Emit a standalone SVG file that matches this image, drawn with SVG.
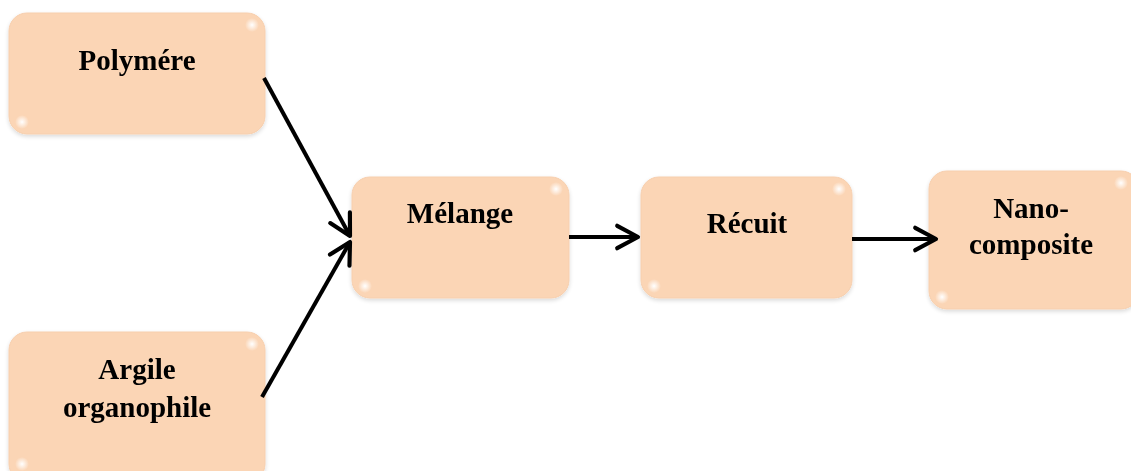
<svg xmlns="http://www.w3.org/2000/svg" width="1131" height="471" viewBox="0 0 1131 471">
  <style>
    .box { fill: #FBD5B5; stroke: #F7CFAE; stroke-width: 1; }
    .label { font-family: "Liberation Serif", "Times New Roman", serif; font-weight: bold; font-size: 29px; fill: #000; text-anchor: middle; }
    .link { stroke: #000; stroke-width: 4; fill: none; marker-end: url(#chevron); }
  </style>
  <defs>
    <marker id="chevron" viewBox="0 0 10 10" refX="9" refY="5" markerWidth="8" markerHeight="8" orient="auto" markerUnits="strokeWidth">
      <path d="M2.5,1.5 L9,5 L2.5,8.5" fill="none" stroke="#000" stroke-width="1.3" stroke-linecap="round" stroke-linejoin="round"/>
    </marker>
    <radialGradient id="glint">
      <stop offset="0" stop-color="#FFFFFF" stop-opacity="1"/>
      <stop offset="1" stop-color="#FFFFFF" stop-opacity="0"/>
    </radialGradient>
    <filter id="soft" x="-10%" y="-10%" width="120%" height="130%">
      <feGaussianBlur in="SourceAlpha" stdDeviation="2"/>
      <feOffset dx="0" dy="2"/>
      <feComponentTransfer><feFuncA type="linear" slope="0.15"/></feComponentTransfer>
      <feMerge><feMergeNode/><feMergeNode in="SourceGraphic"/></feMerge>
    </filter>
  </defs>

  <g id="node-polymere" filter="url(#soft)">
    <rect class="box" x="9" y="13" width="256" height="121" rx="18"/>
    <circle cx="252" cy="25" r="7" fill="url(#glint)"/>
    <circle cx="22" cy="122" r="7" fill="url(#glint)"/>
    <text class="label" x="137" y="70">Polymére</text>
  </g>

  <g id="node-argile" filter="url(#soft)">
    <rect class="box" x="9" y="332" width="256" height="150" rx="18"/>
    <circle cx="252" cy="344" r="7" fill="url(#glint)"/>
    <circle cx="22" cy="464" r="7" fill="url(#glint)"/>
    <text class="label" x="137" y="379">Argile</text>
    <text class="label" x="137" y="417">organophile</text>
  </g>

  <g id="node-melange" filter="url(#soft)">
    <rect class="box" x="352" y="177" width="217" height="121" rx="18"/>
    <circle cx="556" cy="189" r="7" fill="url(#glint)"/>
    <circle cx="365" cy="286" r="7" fill="url(#glint)"/>
    <text class="label" x="460" y="223">Mélange</text>
  </g>

  <g id="node-recuit" filter="url(#soft)">
    <rect class="box" x="641" y="177" width="211" height="121" rx="18"/>
    <circle cx="839" cy="189" r="7" fill="url(#glint)"/>
    <circle cx="654" cy="286" r="7" fill="url(#glint)"/>
    <text class="label" x="747" y="233">Récuit</text>
  </g>

  <g id="node-nanocomposite" filter="url(#soft)">
    <rect class="box" x="929" y="171" width="210" height="138" rx="18"/>
    <circle cx="1121" cy="183" r="7" fill="url(#glint)"/>
    <circle cx="942" cy="297" r="7" fill="url(#glint)"/>
    <text class="label" x="1031" y="218">Nano-</text>
    <text class="label" x="1031" y="254">composite</text>
  </g>

  <g id="connectors">
    <line class="link" x1="264" y1="78" x2="350" y2="236"/>
    <line class="link" x1="262" y1="397" x2="350" y2="242"/>
    <line class="link" x1="569" y1="237" x2="638" y2="237"/>
    <line class="link" x1="852" y1="239" x2="936" y2="239"/>
  </g>
</svg>
